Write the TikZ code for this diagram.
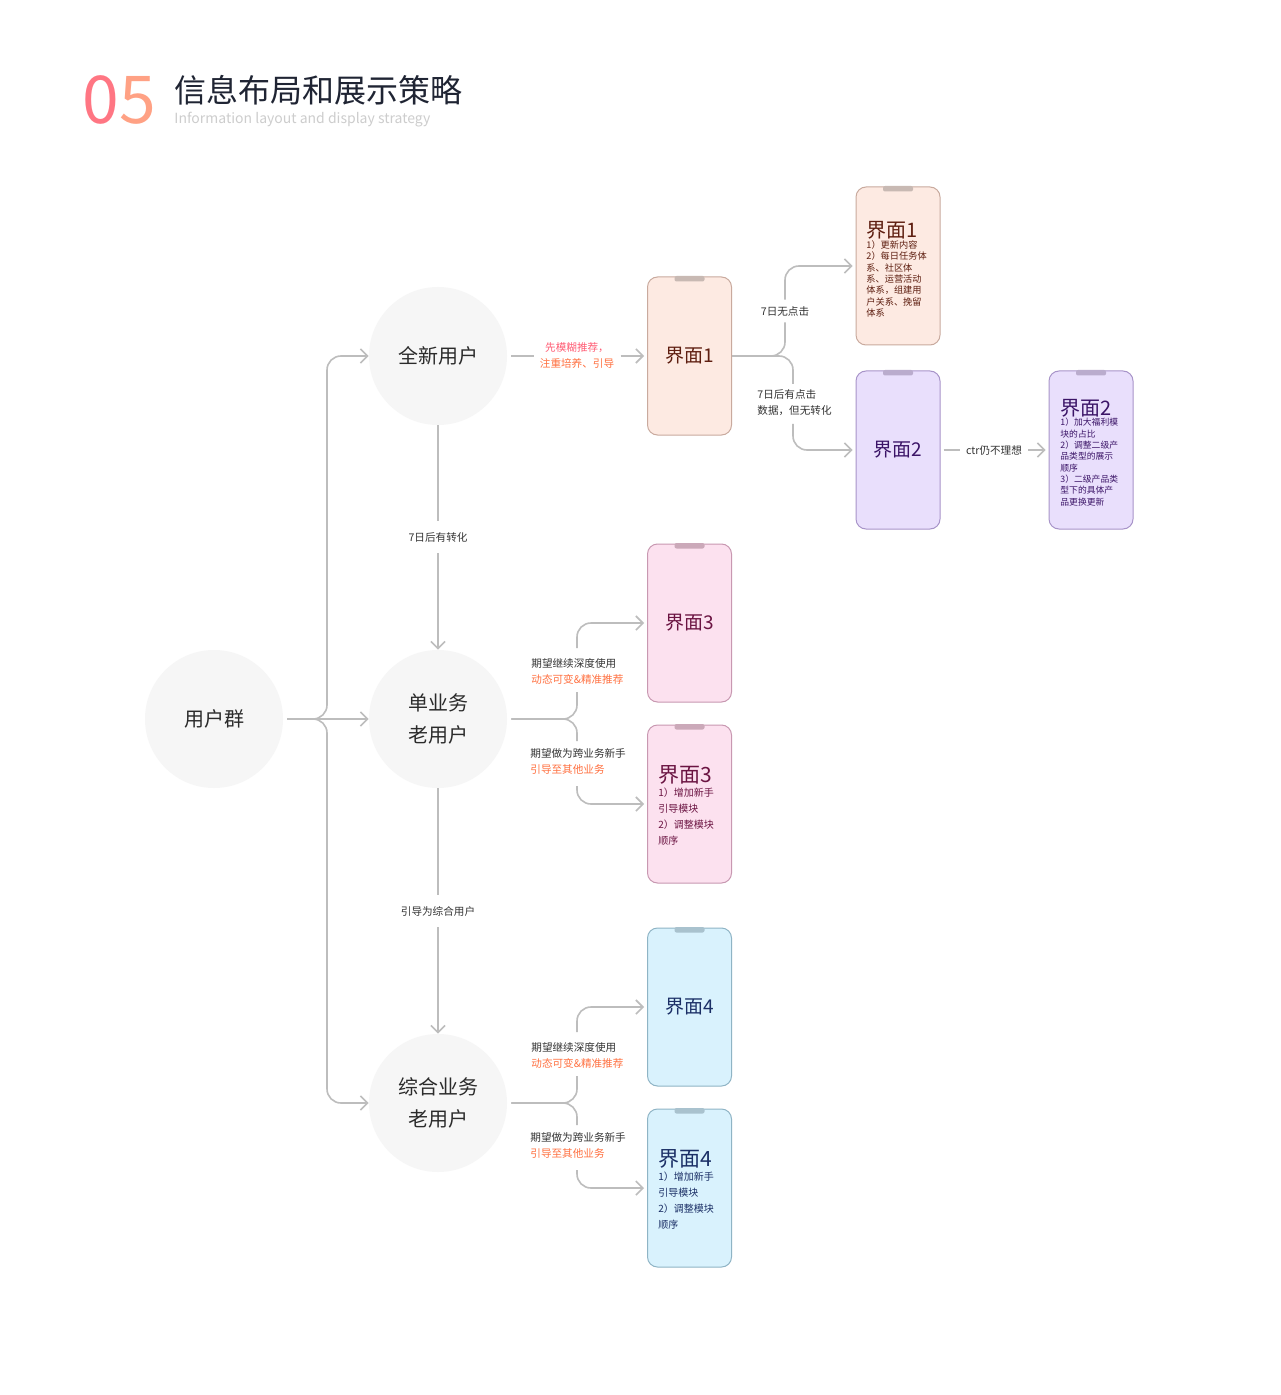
\documentclass[tikz,border=0pt]{standalone}
\usepackage{fontspec}
\setmainfont{Noto Sans CJK SC}
\usepackage{xcolor}
\usetikzlibrary{arrows.meta, positioning, calc}
\definecolor{linegray}{HTML}{BDBDBD}
\definecolor{circfill}{HTML}{F6F6F6}
\definecolor{circtext}{HTML}{2B2B2B}
\definecolor{labeltext}{HTML}{333333}
\definecolor{lred}{HTML}{FF5C74}
\definecolor{lorange}{HTML}{FF7040}
\definecolor{numa}{HTML}{FF7683}
\definecolor{numb}{HTML}{FFA184}
\definecolor{titletext}{HTML}{1F2433}
\definecolor{subtext}{HTML}{CDCDCD}
\definecolor{peach}{HTML}{FDEAE2}
\definecolor{peachl}{HTML}{C9AA9E}
\definecolor{peachn}{HTML}{C8B9B3}
\definecolor{peacht}{HTML}{5E1E10}
\definecolor{lilac}{HTML}{E9DFFC}
\definecolor{lilacl}{HTML}{A894C9}
\definecolor{lilacn}{HTML}{BAACCD}
\definecolor{lilact}{HTML}{3B1467}
\definecolor{rose}{HTML}{FCE1EF}
\definecolor{rosel}{HTML}{C898B1}
\definecolor{rosen}{HTML}{CBA9B9}
\definecolor{roset}{HTML}{6B1442}
\definecolor{sky}{HTML}{D9F2FD}
\definecolor{skyl}{HTML}{8FB4C5}
\definecolor{skyn}{HTML}{A9C2CE}
\definecolor{skyt}{HTML}{1B2F66}

\begin{document}
\begin{tikzpicture}
  [
    x=0.5pt, y=-0.5pt,
    circ/.style={circle, fill=circfill, minimum size=69pt, inner sep=0pt, align=center,
      font=\fontsize{10}{16}\selectfont, text=circtext},
    phone/.style={rectangle, rounded corners=5pt, line width=0.5pt, minimum width=42pt,
      minimum height=79pt, inner sep=0pt, font=\fontsize{9.5}{10}\selectfont},
    line/.style={draw=linegray, line width=0.8pt, rounded corners=7pt},
    conn/.style={line, -{Straight Barb[length=3.5pt, width=7pt, line width=0.8pt]}},
    lbl/.style={font=\fontsize{5.3}{8}\selectfont, text=labeltext, inner xsep=3pt, inner ysep=3pt, align=center},
    dtitle/.style={anchor=west, inner sep=0pt, font=\fontsize{10}{10}\selectfont},
    dbody/.style={anchor=north west, inner sep=0pt, align=left}
  ]
  \fill[white] (0,0) rectangle (1280,1395);
  \useasboundingbox (0,0) rectangle (1280,1395);

  % title
  \node[anchor=west, inner sep=0pt, font=\fontsize{33}{33}\selectfont] (num) at (82,100)
    {{\color{numa}0}{\color{numb}5}};
  \node[anchor=west, inner sep=0pt, text=titletext, font=\fontsize{16}{16}\selectfont] (ttl) at (174,90)
    {信息布局和展示策略};
  \node[anchor=west, inner sep=0pt, text=subtext, font=\fontsize{7}{7}\selectfont] (sub) at (174,120)
    {Information layout and display strategy};

  % user groups
  \node[circ] (ug) at (214,719) {用户群};
  \node[circ] (nu) at (438,356) {全新用户};
  \node[circ] (su) at (438,719) {单业务\\老用户};
  \node[circ] (cu) at (438,1103) {综合业务\\老用户};

  % screens
  \node[phone, fill=peach, draw=peachl, text=peacht] (p1) at (689.5,356) {界面1};
  \node[phone, fill=peach, draw=peachl] (d1) at (898,266) {};
  \node[phone, fill=lilac, draw=lilacl, text=lilact] (d2) at (898,450) {界面2};
  \node[phone, fill=lilac, draw=lilacl] (d2x) at (1091,450) {};
  \node[phone, fill=rose, draw=rosel, text=roset] (p3) at (689.5,623) {界面3};
  \node[phone, fill=rose, draw=rosel] (p3x) at (689.5,804) {};
  \node[phone, fill=sky, draw=skyl, text=skyt] (p4) at (689.5,1007) {界面4};
  \node[phone, fill=sky, draw=skyl] (p4x) at (689.5,1188) {};

  \foreach \p/\c in {p1/peachn, d1/peachn, d2/lilacn, d2x/lilacn, p3/rosen, p3x/rosen, p4/skyn, p4x/skyn}
    \fill[\c, rounded corners=1pt] ($(\p.north)+(-15,-0.5)$) rectangle ($(\p.north)+(15,5)$);

  % screen details
  \node[dtitle, text=peacht] (d1a) at (866,230) {界面1};
  \node[dbody, text=peacht, font=\fontsize{4.6}{5.7}\selectfont] (d1b) at (866,240)
    {1）更新内容\\2）每日任务体\\系、社区体\\系、运营活动\\体系，组建用\\户关系、挽留\\体系};
  \node[dtitle, text=lilact] (d2a) at (1060,408) {界面2};
  \node[dbody, text=lilact, font=\fontsize{4.4}{5.65}\selectfont] (d2b) at (1060,418)
    {1）加大福利模\\块的占比\\2）调整二级产\\品类型的展示\\顺序\\3）二级产品类\\型下的具体产\\品更换更新};
  \node[dtitle, text=roset, font=\fontsize{10.5}{10}\selectfont] (p3a) at (658,775) {界面3};
  \node[dbody, text=roset, font=\fontsize{5}{8}\selectfont] (p3b) at (658,788)
    {1）增加新手\\引导模块\\2）调整模块\\顺序};
  \node[dtitle, text=skyt, font=\fontsize{10.5}{10}\selectfont] (p4a) at (658,1159) {界面4};
  \node[dbody, text=skyt, font=\fontsize{5}{8}\selectfont] (p4b) at (658,1172)
    {1）增加新手\\引导模块\\2）调整模块\\顺序};

  % labels
  \node[lbl] (nl) at (577,356) {{\color{lred}先模糊推荐，}\\{\color{lorange}注重培养、引导}};
  \node[lbl, inner ysep=5.5pt] (t1) at (438,537) {7日后有转化};
  \node[lbl, inner ysep=5.5pt] (t2) at (438,911) {引导为综合用户};
  \node[lbl] (n7a) at (785,311) {7日无点击};
  \node[lbl, anchor=west, align=left] (n7b) at (751,403) {7日后有点击\\数据，但无转化};
  \node[lbl] (nc) at (994,450) {ctr仍不理想};
  \node[lbl, anchor=west, align=left] (s1) at (525,671) {期望继续深度使用\\{\color{lorange}动态可变\&精准推荐}};
  \node[lbl, anchor=west, align=left] (s2) at (524,761) {期望做为跨业务新手\\{\color{lorange}引导至其他业务}};
  \node[lbl, anchor=west, align=left] (c1) at (525,1055) {期望继续深度使用\\{\color{lorange}动态可变\&精准推荐}};
  \node[lbl, anchor=west, align=left] (c2) at (524,1145) {期望做为跨业务新手\\{\color{lorange}引导至其他业务}};

  \coordinate (trunk) at (327,719);
  \coordinate (b1) at (793,384);
  \coordinate (b2) at (793,424);
  \coordinate (s1a) at (577,692);
  \coordinate (s1b) at (577,648);
  \coordinate (s2a) at (577,741);
  \coordinate (s2b) at (577,786);
  \coordinate (c1a) at (577,1076);
  \coordinate (c1b) at (577,1032);
  \coordinate (c2a) at (577,1125);
  \coordinate (c2b) at (577,1170);

  % connectors
  \draw[conn, shorten <=2pt] (ug) -- (su);
  \draw[conn, shorten <=2pt] (ug) -- (trunk) |- (nu);
  \draw[conn, shorten <=2pt] (ug) -- (trunk) |- (cu);

  \draw[line, shorten <=2pt] (nu) -- (nl);
  \draw[conn, shorten >=1.5pt] (nl) -- (p1);
  \draw[line] (nu) -- (t1);
  \draw[conn] (t1) -- (su);
  \draw[line] (su) -- (t2);
  \draw[conn] (t2) -- (cu);

  \draw[line] (p1.east) -| (n7a.south);
  \draw[conn, shorten >=1.5pt] (n7a.north) |- (d1);
  \draw[line] (p1.east) -| (b1);
  \draw[conn, shorten >=1.5pt] (b2) |- (d2);
  \draw[line, shorten <=1.5pt] (d2) -- (nc);
  \draw[conn, shorten >=1.5pt] (nc) -- (d2x);

  \draw[line, shorten <=2pt] (su) -| (s1a);
  \draw[conn, shorten >=1.5pt] (s1b) |- (p3);
  \draw[line, shorten <=2pt] (su) -| (s2a);
  \draw[conn, shorten >=1.5pt] (s2b) |- (p3x);
  \draw[line, shorten <=2pt] (cu) -| (c1a);
  \draw[conn, shorten >=1.5pt] (c1b) |- (p4);
  \draw[line, shorten <=2pt] (cu) -| (c2a);
  \draw[conn, shorten >=1.5pt] (c2b) |- (p4x);
\end{tikzpicture}
\end{document}
